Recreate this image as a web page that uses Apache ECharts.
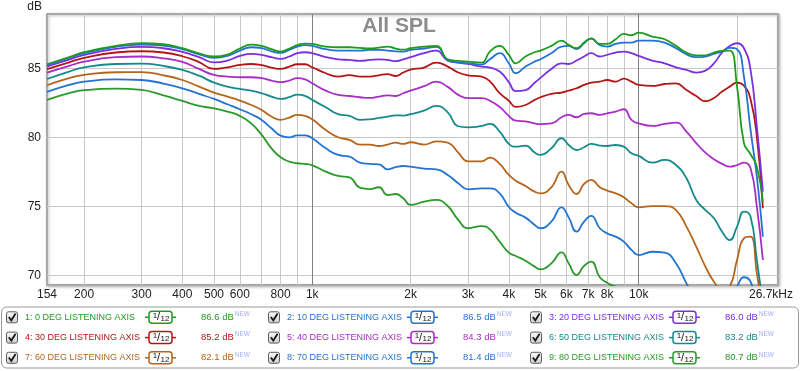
<!DOCTYPE html>
<html><head><meta charset="utf-8">
<script src="https://cdn.jsdelivr.net/npm/echarts@6/dist/echarts.min.js"></script>
<style>html,body{margin:0;padding:0;background:#fff;}#c{width:800px;height:371px;}</style>
</head><body><div id="c"></div>
<script>
const freqs = [154,180,200,250,300,350,400,450,
500,550,600,650,700,750,800,850,900,950,1000,
1100,1200,1300,1400,1500,1600,1700,1800,1900,2000,
2200,2400,2600,2800,3000,
3300,3500,3750,4000,
4200,4500,4800,5000,
5400,5800,6100,6450,6800,7150,7600,8000,
8500,9000,9500,10000,
11000,12000,13000,14000,15000,16000,17000,18000,19000,20000,21000,22000,23000,24000];

const deg0 = [85.29,85.80,86.16,86.62,86.81,86.74,86.45,86.08,
85.85,85.99,86.43,86.71,86.62,86.38,86.21,86.43,86.67,86.79,86.76,
86.57,86.52,86.52,86.47,86.43,86.50,86.57,86.43,86.35,86.45,
86.57,86.62,85.65,85.53,85.48,
85.41,86.21,86.62,85.97,
85.36,85.85,86.16,86.28,
86.62,87.00,86.69,86.45,86.86,87.15,86.76,86.76,
87.10,87.49,87.39,87.58,
87.29,87.10,86.62,86.14,85.94,85.94,86.14,86.26,86.28,83.67,79.57,78.77,77.87,75.34];

const deg10 = [85.24,85.75,86.09,86.55,86.71,86.64,86.38,86.01,
85.75,85.89,86.28,86.52,86.45,86.23,86.11,86.33,86.57,86.67,86.62,
86.38,86.28,86.28,86.28,86.33,86.33,86.28,86.23,86.21,86.33,
86.43,86.55,85.60,85.41,85.36,
85.27,85.65,86.09,85.36,
84.64,85.12,85.48,85.65,
86.09,86.57,86.62,86.38,86.81,87.17,86.67,86.57,
86.76,86.86,86.86,87.00,
87.00,86.86,86.45,86.01,85.80,85.85,86.04,86.21,86.47,86.38,84.40,80.53,77.15,72.80];

const deg20 = [85.14,85.63,85.97,86.40,86.55,86.45,86.18,85.80,
85.43,85.56,85.89,86.04,85.97,85.80,85.68,85.85,86.09,86.16,86.09,
85.80,85.65,85.60,85.53,85.60,85.65,85.60,85.51,85.65,85.80,
86.09,86.28,85.55,85.41,85.31,
85.12,85.05,84.76,84.00,
83.35,83.42,83.95,84.30,
84.95,85.36,85.31,85.56,85.85,86.09,85.85,85.97,
86.14,86.21,86.09,85.89,
85.56,85.36,85.07,84.88,84.69,84.83,85.36,86.14,86.62,86.81,86.45,84.88,80.77,76.06];

const deg30 = [84.93,85.43,85.75,86.14,86.23,86.14,85.87,85.45,
84.95,85.07,85.24,85.31,85.22,85.05,84.95,85.12,85.29,85.29,85.07,
84.64,84.40,84.50,84.40,84.40,84.49,84.57,84.44,84.69,84.90,
85.05,85.41,85.12,84.69,84.49,
84.40,84.05,83.19,82.65,
82.20,82.34,82.71,82.90,
83.14,83.24,83.38,83.55,83.79,83.96,84.03,84.15,
84.03,84.25,84.03,83.79,
83.72,83.86,83.91,83.43,82.99,82.61,82.85,83.31,83.67,83.96,83.74,82.75,80.05,74.86];

const deg40 = [84.69,85.17,85.48,85.80,85.85,85.72,85.46,84.95,
84.52,84.40,84.35,84.35,84.28,84.11,83.99,84.11,84.28,84.20,83.91,
83.38,83.07,82.99,82.90,82.85,82.95,83.04,82.99,83.19,83.38,
83.70,84.03,83.65,83.07,82.83,
82.83,82.65,82.20,81.55,
81.20,81.15,81.00,80.95,
81.00,81.45,81.62,81.45,81.69,81.74,81.62,81.74,
81.86,82.03,81.26,81.01,
80.82,80.97,81.06,80.41,79.57,78.89,78.41,78.07,77.87,77.99,78.16,77.75,74.98,71.11];

const deg50 = [84.22,84.76,85.07,85.31,85.33,85.17,84.88,84.46,
83.96,83.67,83.50,83.38,83.19,82.95,82.78,82.90,83.09,83.00,82.71,
82.17,81.67,81.55,81.26,81.30,81.40,81.50,81.59,81.57,81.67,
81.93,82.27,81.80,80.80,80.72,
80.82,80.97,80.41,79.52,
79.32,79.40,78.89,78.72,
79.20,79.93,79.44,79.08,79.28,79.52,79.40,79.37,
79.44,79.32,78.84,78.65,
78.16,78.36,77.99,77.03,75.46,74.73,74.13,73.16,72.56,73.53,74.61,74.25,71.11,67.97];

const deg60 = [83.77,84.28,84.52,84.71,84.72,84.49,84.15,83.67,
83.24,82.95,82.66,82.34,81.98,81.50,81.26,81.43,81.62,81.55,81.30,
80.53,80.00,79.81,79.47,79.47,79.37,79.47,79.61,79.52,79.64,
79.47,79.71,79.61,78.89,78.26,
78.26,78.53,78.07,77.27,
76.86,76.47,76.06,75.94,
76.38,77.51,76.55,75.89,76.62,76.91,76.38,76.14,
75.94,75.65,75.22,74.93,
75.02,75.02,74.73,73.53,72.08,70.63,69.54,68.94,69.18,71.11,72.68,72.80,70.15,67.25];

const deg70 = [83.29,83.79,84.03,84.20,84.15,83.89,83.55,83.14,
82.78,82.39,82.03,81.67,81.26,80.65,80.12,80.00,80.14,80.14,79.93,
79.20,78.72,78.60,78.16,78.07,78.04,77.68,77.83,77.92,77.87,
77.73,77.68,77.27,76.67,76.23,
76.30,76.30,75.94,74.95,
74.54,74.18,73.65,73.41,
73.89,74.93,74.20,73.16,73.89,74.30,73.41,73.04,
72.80,72.44,71.84,71.47,
71.71,71.64,70.87,69.42,68.21,67.49,67.25,67.49,68.21,69.18,69.86,69.54,67.73,66.76];

const deg80 = [82.71,83.19,83.41,83.53,83.43,83.04,82.63,82.27,
82.10,81.86,81.55,81.01,80.17,79.20,78.55,78.24,78.12,78.07,77.97,
77.51,77.20,77.10,76.35,76.25,76.38,75.82,75.89,75.58,75.10,
75.34,75.46,75.02,74.01,73.41,
73.57,73.33,72.44,71.65,
71.40,71.06,70.63,70.43,
70.87,71.67,70.87,70.02,70.68,70.99,69.86,69.47,
69.18,68.94,68.82,68.70,
68.5,68.3,68.0,67.6,67.2,66.8,66.5,66.3,66.4,66.7,67.0,67.0,66.3,65.5];

const legendNames = ['1: 0 DEG LISTENING AXIS','2: 10 DEG LISTENING AXIS','3: 20 DEG LISTENING AXIS',
'4: 30 DEG LISTENING AXIS','5: 40 DEG LISTENING AXIS','6: 50 DEG LISTENING AXIS',
'7: 60 DEG LISTENING AXIS','8: 70 DEG LISTENING AXIS','9: 80 DEG LISTENING AXIS'];
const legendValues = ['86.6','86.5','86.0','85.2','84.3','83.2','82.1','81.4','80.7'];
const xTickValues = [154,200,300,400,500,600,800,1000,2000,3000,4000,5000,6000,7000,8000,10000,26700];
const xTickLabels = ['154','200','300','400','500','600','800','1k','2k','3k','4k','5k','6k','7k','8k','10k','26.7kHz'];
const xGridValues = [200,300,400,500,600,700,800,900,1000,2000,3000,4000,5000,6000,7000,8000,9000,10000,20000];
const xMajorValues = [1000,10000];
const yTickValues = [70,75,80,85];

const seriesColors = ['#1f9b1f','#2273d2','#7b2fe0','#b31616','#a92cc6','#168a8a','#b4661c','#2273d2','#2a9a2a'];
const FONT = '"Liberation Sans", Arial, sans-serif';
const curves = [deg0,deg10,deg20,deg30,deg40,deg50,deg60,deg70,deg80];

const labelPos = xTickValues.map((v,i)=> i===0 ? v*1.0001 : (i===xTickValues.length-1 ? v*0.9999 : v));
function xFmt(v){
  let best=0, bd=Infinity;
  for(let i=0;i<xTickValues.length;i++){const d=Math.abs(Math.log(v/xTickValues[i])); if(d<bd){bd=d;best=i;}}
  return best===xTickValues.length-1 ? '{r|'+xTickLabels[best]+'}' : xTickLabels[best];
}

const series = [];
series.push({type:'line', data:[], silent:true, z:1,
  markLine:{silent:true, z:1, animation:false, symbol:['none','none'], label:{show:false},
    lineStyle:{color:'#808080', width:1, type:'solid'},
    data: xMajorValues.map(v=>({xAxis:v}))}});
for(let i=curves.length-1;i>=0;i--){
  series.push({name:legendNames[i], type:'line', z:3, showSymbol:false, symbol:'none', smooth:0.5, clip:true,
    lineStyle:{color:seriesColors[i], width:1.8}, itemStyle:{color:seriesColors[i]},
    emphasis:{disabled:true},
    data: freqs.map((f,j)=>[f, curves[i][j]])});
}

const ctx = document.createElement('canvas').getContext('2d');
function tw(s,f){ctx.font=f;return ctx.measureText(s).width;}

const g = [];
g.push({type:'text', x:42, y:7, z:100, style:{text:'dB', fill:'#222', font:'12px '+FONT, align:'right', textAlign:'right', verticalAlign:'middle', textVerticalAlign:'middle'}});
g.push({type:'text', x:399, y:26, z:100, style:{text:'All SPL', fill:'#8c8c8c', font:'bold 21px '+FONT, align:'center', textAlign:'center', verticalAlign:'middle', textVerticalAlign:'middle'}});
g.push({type:'rect', z:90, shape:{x:1.5, y:307, width:797, height:61, r:5}, style:{fill:'#fff', stroke:'#9a9a9a', lineWidth:1}});
const colX=[0,262,524], rowY=[317.3,337.6,357.8];
for(let i=0;i<9;i++){
  const bx=colX[i%3], cy=rowY[Math.floor(i/3)], col=seriesColors[i];
  g.push({type:'rect', z:100, shape:{x:bx+6.5,y:cy-5.5,width:11,height:11,r:2},
    style:{fill:{type:'linear',x:0,y:0,x2:0,y2:1,colorStops:[{offset:0,color:'#fbfbfb'},{offset:1,color:'#cdcdcd'}]}, stroke:'#5c5c5c', lineWidth:1}});
  g.push({type:'polyline', z:101, shape:{points:[[bx+8.8,cy-0.3],[bx+11.3,cy+3],[bx+15.6,cy-3.8]]}, style:{stroke:'#1a1a1a', lineWidth:1.8, fill:'none'}});
  g.push({type:'text', z:100, x:bx+25, y:cy, style:{text:legendNames[i], fill:col, font:'9px '+FONT, verticalAlign:'middle', textVerticalAlign:'middle'}});
  g.push({type:'line', z:100, shape:{x1:bx+145,y1:cy,x2:bx+176,y2:cy}, style:{stroke:col, lineWidth:1.5}});
  g.push({type:'rect', z:101, shape:{x:bx+149,y:cy-6,width:23,height:12,r:3}, style:{fill:'#fff', stroke:col, lineWidth:1.5}});
  g.push({type:'text', z:102, x:bx+155, y:cy-1.8, style:{text:'1', fill:'#111', font:'8px '+FONT, align:'center', textAlign:'center', verticalAlign:'middle', textVerticalAlign:'middle'}});
  g.push({type:'text', z:102, x:bx+158.5, y:cy, style:{text:'/', fill:'#111', font:'11px '+FONT, align:'center', textAlign:'center', verticalAlign:'middle', textVerticalAlign:'middle'}});
  g.push({type:'text', z:102, x:bx+165, y:cy+1.5, style:{text:'12', fill:'#111', font:'8px '+FONT, align:'center', textAlign:'center', verticalAlign:'middle', textVerticalAlign:'middle'}});
  const vs=legendValues[i]+' dB', vf='9.5px '+FONT;
  g.push({type:'text', z:100, x:bx+201, y:cy, style:{text:vs, fill:col, font:vf, verticalAlign:'middle', textVerticalAlign:'middle'}});
  g.push({type:'text', z:100, x:bx+201+tw(vs,vf)+1, y:cy-3, style:{text:'NEW', fill:'#a3aef5', font:'6.5px '+FONT, verticalAlign:'middle', textVerticalAlign:'middle'}});
}

const chart = echarts.init(document.getElementById('c'), null, {renderer:'canvas'});
chart.setOption({
  animation:false,
  backgroundColor:'#fff',
  grid:{left:47, top:14, width:731, height:271, show:true, backgroundColor:'#fff', borderColor:'#a9a9a9', borderWidth:2,
    shadowColor:'rgba(0,0,0,0.25)', shadowBlur:3, shadowOffsetX:1, shadowOffsetY:1},
  xAxis:{type:'log', logBase:10, min:154, max:26700,
    axisLine:{show:false}, axisTick:{show:false, customValues:xGridValues},
    splitLine:{show:true, lineStyle:{color:'#c8c8c8', width:1}},
    axisLabel:{customValues:labelPos, formatter:xFmt, color:'#222', fontSize:12, fontFamily:FONT, margin:4,
      rich:{r:{padding:[0,14,0,0], fontSize:12, color:'#222', fontFamily:FONT}}}},
  yAxis:{type:'value', min:69.3, max:88.93,
    axisLine:{show:false}, axisTick:{show:false, customValues:yTickValues},
    splitLine:{show:true, lineStyle:{color:'#c8c8c8', width:1}},
    axisLabel:{customValues:yTickValues, color:'#222', fontSize:12, fontFamily:FONT, margin:6}},
  series: series,
  graphic:{elements:g}
});
</script></body></html>
